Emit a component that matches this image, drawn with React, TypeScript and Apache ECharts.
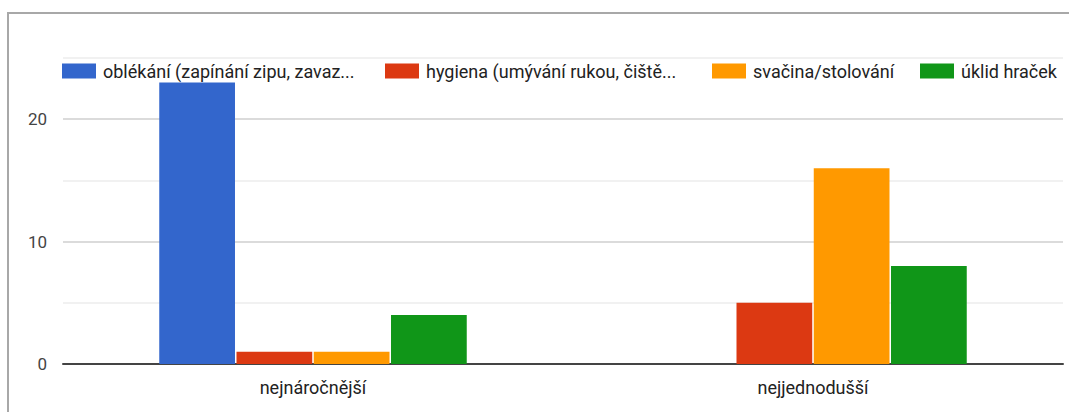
import React, { useEffect, useRef } from "react";
import * as echarts from "echarts";

const categories = ["nejnáročnější", "nejjednodušší"];
const seriesNames = [
  "oblékání (zapínání zipu, zavaz...",
  "hygiena (umývání rukou, čiště...",
  "svačina/stolování",
  "úklid hraček",
];
const oblekani = [23, 0];
const hygiena = [1, 5];
const svacina = [1, 16];
const uklid = [4, 8];
const yTicks = [0, 10, 20];

const colors = ["#3366cc", "#dc3912", "#ff9900", "#109618"];
const legendLefts = [62, 385, 712, 920];

export default function App() {
  const ref = useRef<HTMLDivElement>(null);
  useEffect(() => {
    if (!ref.current) return;
    const chart = echarts.init(ref.current, null, { renderer: "svg" });
    const values = [oblekani, hygiena, svacina, uklid];
    const font = "Roboto, Arial, sans-serif";
    chart.setOption({
      animation: false,
      backgroundColor: "#fff",
      textStyle: { fontFamily: font },
      graphic: [
        {
          type: "rect",
          z: -10,
          shape: { x: 8, y: 13, width: 1120, height: 460 },
          style: { fill: "none", stroke: "#a8a8a8", lineWidth: 2 },
          silent: true,
        },
      ],
      legend: seriesNames.map((n, i) => ({
        data: [n],
        left: legendLefts[i],
        top: 62,
        padding: 0,
        itemWidth: 34,
        itemHeight: 15,
        icon: "rect",
        selectedMode: false,
        textStyle: { fontSize: 18, color: "#222", fontFamily: font, padding: [0, 0, 0, 2] },
      })),
      grid: { left: 63, right: 6, top: 58, bottom: 48 },
      xAxis: {
        type: "category",
        data: categories,
        axisLine: { show: true, lineStyle: { color: "#444", width: 2 } },
        axisTick: { show: false },
        axisLabel: { fontSize: 18, color: "#222", margin: 14, fontFamily: font },
      },
      yAxis: {
        type: "value",
        min: 0,
        max: 25,
        interval: 5,
        axisLine: { show: false },
        axisTick: { show: false },
        splitLine: { lineStyle: { color: ["#cfcfcf", "#ececec"], width: 1.5 } },
        axisLabel: {
          fontSize: 17,
          color: "#444",
          margin: 16,
          fontFamily: font,
          formatter: (v: number) => (yTicks.includes(v) ? String(v) : ""),
        },
      },
      series: seriesNames.map((n, i) => ({
        name: n,
        type: "bar",
        data: values[i],
        barGap: "2%",
        barCategoryGap: "38.5%",
        itemStyle: { color: colors[i] },
      })),
    });
    return () => chart.dispose();
  }, []);
  return (
    <div
      ref={ref}
      style={{ position: "absolute", left: 0, top: 0, width: 1069, height: 412 }}
    />
  );
}
